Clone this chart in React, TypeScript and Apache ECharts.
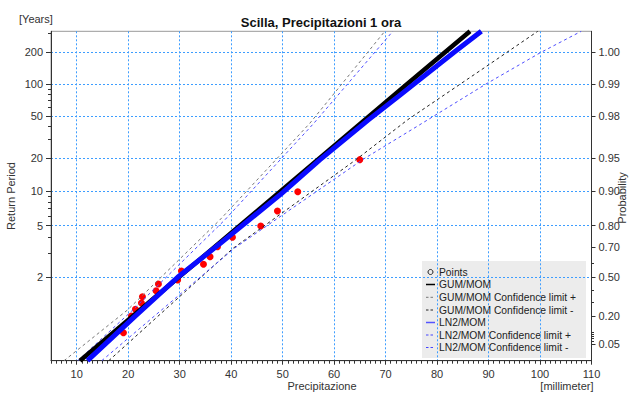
import React, { useEffect, useRef } from "react";
import * as echarts from "echarts";

// ---- texts ----
const titleText = "Scilla, Precipitazioni 1 ora";
const xName = "Precipitazione";
const xUnit = "[millimeter]";
const yName = "Return Period";
const yUnit = "[Years]";
const y2Name = "Probability";

// ---- axis ticks ----
const xTickValues = [10, 20, 30, 40, 50, 60, 70, 80, 90, 100, 110];
const xRange = [5, 110];
const returnPeriodTicks = [2, 5, 10, 20, 50, 100, 200];
const returnPeriodMinor = [3, 4, 6, 7, 8, 9, 30, 40, 60, 70, 80, 90, 300];
const probTicks = [0.995, 0.99, 0.98, 0.95, 0.9, 0.8, 0.7, 0.5, 0.2, 0.05];
const probLabels = ["1.00", "0.99", "0.98", "0.95", "0.90", "0.80", "0.70", "0.50", "0.20", "0.05"];
const probMinor = [0.6, 0.4, 0.3, 0.1, 0.09, 0.08, 0.07, 0.06];
const probRange = [0.01349, 0.99684];

// ---- observed points (precipitation mm, non-exceedance probability) ----
const pointPrecip = [64.98, 52.94, 48.99, 45.75, 40.25, 37.34, 35.9, 34.62, 30.34, 29.6, 25.87, 25.41, 22.76, 22.57, 21.4, 20.63, 19.07];
const pointProb = [0.9487, 0.8992, 0.8503, 0.7982, 0.7494, 0.7015, 0.6432, 0.5936, 0.5469, 0.48, 0.4482, 0.3947, 0.3466, 0.2963, 0.2471, 0.1984, 0.097];

// ---- fitted curves ----
const gumProb = [0.01349, 0.5, 0.9, 0.99, 0.99684];
const gumPrecip = [10.64, 29.8, 49.6, 74.2, 86.4];

const gumUpProb = [0.01349, 0.2419, 0.8208, 0.97652, 0.99684];
const gumUpPrecip = [7.53, 19.85, 37.78, 55.27, 69.84];

const gumLowProb = [0.01349, 0.6927, 0.94904, 0.97829, 0.99321, 0.99684];
const gumLowPrecip = [16.22, 40.37, 64.34, 74.3, 89.6, 99.55];

const lnProb = [0.01349, 0.1923, 0.5, 0.7169, 0.8951, 0.9485, 0.9781, 0.98692, 0.995, 0.99684];
const lnPrecip = [12.08, 21.2, 29.6, 37.78, 49.77, 57.21, 66.6, 72.5, 83.3, 88.6];

const lnUpProb = [0.01349, 0.2419, 0.8208, 0.97652, 0.99684];
const lnUpPrecip = [10.19, 20.88, 38.75, 56.05, 71.4];

const lnLowProb = [0.01349, 0.6927, 0.94904, 0.9758, 0.98985, 0.99492, 0.99684];
const lnLowPrecip = [14.86, 40.6, 65.62, 76.64, 89.27, 99.95, 108.0];

const legendNames = [
  "Points",
  "GUM/MOM",
  "GUM/MOM Confidence limit +",
  "GUM/MOM Confidence limit -",
  "LN2/MOM",
  "LN2/MOM Confidence limit +",
  "LN2/MOM Confidence limit -",
];

const FONT = "'Liberation Sans', Arial, sans-serif";

// Gumbel reduced variate (probability-paper scale)
const G = (p: number) => -Math.log(-Math.log(p));
const GT = (t: number) => G(1 - 1 / t);

const pair = (xs: number[], ps: number[]) => xs.map((x, i) => [x, G(ps[i])]);

const nearestLabel = (v: number, vals: number[], labels: string[]) => {
  let best = 0;
  let bd = Infinity;
  vals.forEach((g, i) => {
    const d = Math.abs(g - v);
    if (d < bd) {
      bd = d;
      best = i;
    }
  });
  return bd < 0.05 ? labels[best] : "";
};

export default function App() {
  const ref = useRef<HTMLDivElement>(null);

  useEffect(() => {
    if (!ref.current) return;
    const chart = echarts.init(ref.current, undefined, { renderer: "svg" });

    const rpG = returnPeriodTicks.map(GT);
    const rpMinorG = returnPeriodMinor.map(GT);
    const probG = probTicks.map(G);
    const probMinorG = probMinor.map(G);
    const yMin = G(probRange[0]);
    const yMax = G(probRange[1]);

    const gridLine = { color: "#3d9dff", width: 1, type: [2, 2] as any };
    const axisColor = "#333";

    const yBase = { type: "value", min: yMin, max: yMax, gridIndex: 0 };
    const xBase = { type: "value", min: xRange[0], max: xRange[1], gridIndex: 0 };

    const legendRowY = [272, 284.5, 297.3, 310, 322.5, 335, 347.5];
    const legendIcons: any[] = [];
    const iconStyles = [
      null,
      { stroke: "#000", lineWidth: 1.5 },
      { stroke: "#777", lineWidth: 1, lineDash: [2.5, 2] },
      { stroke: "#222", lineWidth: 1, lineDash: [2.5, 2] },
      { stroke: "#5555ff", lineWidth: 1.5 },
      { stroke: "#4444ff", lineWidth: 1, lineDash: [2.5, 2] },
      { stroke: "#4444ff", lineWidth: 1, lineDash: [2.5, 2] },
    ];
    legendNames.forEach((name, i) => {
      const y = legendRowY[i];
      if (i === 0) {
        legendIcons.push({
          type: "circle",
          z: -1,
          shape: { cx: 430.5, cy: y, r: 2.5 },
          style: { fill: "none", stroke: "#222", lineWidth: 1 },
        });
      } else {
        legendIcons.push({
          type: "line",
          z: -1,
          shape: { x1: 426, y1: y, x2: 435, y2: y },
          style: iconStyles[i],
        });
      }
      legendIcons.push({
        type: "text",
        z: -1,
        x: 439,
        y: y,
        style: {
          text: name,
          fill: "#222",
          font: `10.3px ${FONT}`,
          align: "left",
          verticalAlign: "middle",
        },
      });
    });

    const option: any = {
      animation: false,
      backgroundColor: "#ffffff",
      grid: {
        left: 51,
        right: 37.5,
        top: 31.3,
        bottom: 33.3,
        show: true,
        borderColor: "#999",
        borderWidth: 1,
        backgroundColor: "transparent",
        outerBoundsMode: "none",
        containLabel: false,
      },
      xAxis: [
        {
          ...xBase,
          position: "bottom",
          axisLine: { show: true, onZero: false, lineStyle: { color: axisColor } },
          axisTick: { show: true, customValues: xTickValues, length: 4, lineStyle: { color: axisColor } },
          axisLabel: {
            show: true,
            customValues: xTickValues,
            margin: 8,
            fontSize: 11,
            fontFamily: FONT,
            color: axisColor,
          },
          splitLine: { show: true, lineStyle: gridLine },
        },
        {
          ...xBase,
          position: "bottom",
          interval: 1,
          axisLine: { show: false, onZero: false },
          axisTick: { show: true, length: 3, lineStyle: { color: axisColor } },
          axisLabel: { show: false },
          splitLine: { show: false },
        },
      ],
      yAxis: [
        {
          ...yBase,
          position: "left",
          axisLine: { show: true, onZero: false, lineStyle: { color: axisColor } },
          axisTick: { show: true, customValues: rpG, length: 5, lineStyle: { color: axisColor } },
          axisLabel: {
            show: true,
            customValues: rpG,
            margin: 8,
            fontSize: 11,
            fontFamily: FONT,
            color: axisColor,
            formatter: (v: number) => nearestLabel(v, rpG, returnPeriodTicks.map(String)),
          },
          splitLine: { show: true, lineStyle: gridLine },
        },
        {
          ...yBase,
          position: "left",
          axisLine: { show: false, onZero: false },
          axisTick: { show: true, customValues: rpMinorG, length: 3, lineStyle: { color: axisColor } },
          axisLabel: { show: false },
          splitLine: { show: false },
        },
        {
          ...yBase,
          position: "right",
          axisLine: { show: true, onZero: false, lineStyle: { color: axisColor } },
          axisTick: { show: true, customValues: probG, length: 4, lineStyle: { color: axisColor } },
          axisLabel: {
            show: true,
            customValues: probG,
            margin: 7,
            fontSize: 11,
            fontFamily: FONT,
            color: axisColor,
            formatter: (v: number) => nearestLabel(v, probG, probLabels),
          },
          splitLine: { show: false },
        },
        {
          ...yBase,
          position: "right",
          axisLine: { show: false, onZero: false },
          axisTick: { show: true, customValues: probMinorG, length: 2.5, lineStyle: { color: axisColor } },
          axisLabel: { show: false },
          splitLine: { show: false },
        },
      ],
      series: [
        {
          name: legendNames[0],
          type: "scatter",
          data: pair(pointPrecip, pointProb),
          symbol: "circle",
          symbolSize: 7,
          itemStyle: { color: "#ff0000", opacity: 1 },
          silent: true,
        },
        {
          name: legendNames[2],
          type: "line",
          data: pair(gumUpPrecip, gumUpProb),
          showSymbol: false,
          symbol: "none",
          lineStyle: { color: "#777", width: 1, type: [3, 3] },
          silent: true,
        },
        {
          name: legendNames[5],
          type: "line",
          data: pair(lnUpPrecip, lnUpProb),
          showSymbol: false,
          symbol: "none",
          lineStyle: { color: "#4d4dff", width: 1, type: [3, 3] },
          silent: true,
        },
        {
          name: legendNames[3],
          type: "line",
          data: pair(gumLowPrecip, gumLowProb),
          showSymbol: false,
          symbol: "none",
          lineStyle: { color: "#222", width: 1, type: [3, 3] },
          silent: true,
        },
        {
          name: legendNames[6],
          type: "line",
          data: pair(lnLowPrecip, lnLowProb),
          showSymbol: false,
          symbol: "none",
          lineStyle: { color: "#4d4dff", width: 1, type: [3, 3] },
          silent: true,
        },
        {
          name: legendNames[1],
          type: "line",
          data: pair(gumPrecip, gumProb),
          showSymbol: false,
          symbol: "none",
          lineStyle: { color: "#000", width: 4.5 },
          silent: true,
        },
        {
          name: legendNames[4],
          type: "line",
          data: pair(lnPrecip, lnProb),
          showSymbol: false,
          symbol: "none",
          smooth: false,
          lineStyle: { color: "#0a0aff", width: 5 },
          silent: true,
        },
      ],
      graphic: [
        {
          type: "rect",
          z: -2,
          shape: { x: 422, y: 261, width: 164, height: 97 },
          style: { fill: "#ececec" },
        },
        ...legendIcons,
        {
          type: "text",
          x: 321,
          y: 22,
          style: {
            text: titleText,
            fill: "#111",
            font: `bold 13px ${FONT}`,
            align: "center",
            verticalAlign: "middle",
          },
        },
        {
          type: "text",
          x: 19,
          y: 18.5,
          style: { text: yUnit, fill: "#333", font: `11px ${FONT}`, align: "left", verticalAlign: "middle" },
        },
        {
          type: "text",
          x: 11,
          y: 196,
          rotation: Math.PI / 2,
          style: { text: yName, fill: "#333", font: `11px ${FONT}`, align: "center", verticalAlign: "middle" },
        },
        {
          type: "text",
          x: 622,
          y: 198,
          rotation: Math.PI / 2,
          style: { text: y2Name, fill: "#333", font: `11px ${FONT}`, align: "center", verticalAlign: "middle" },
        },
        {
          type: "text",
          x: 322,
          y: 386,
          style: { text: xName, fill: "#333", font: `11px ${FONT}`, align: "center", verticalAlign: "middle" },
        },
        {
          type: "text",
          x: 593.5,
          y: 386,
          style: { text: xUnit, fill: "#333", font: `11px ${FONT}`, align: "right", verticalAlign: "middle" },
        },
      ],
    };

    chart.setOption(option);
    return () => chart.dispose();
  }, []);

  return (
    <div
      ref={ref}
      style={{ position: "fixed", left: 0, top: 0, width: 629, height: 394, background: "#fff" }}
    />
  );
}
